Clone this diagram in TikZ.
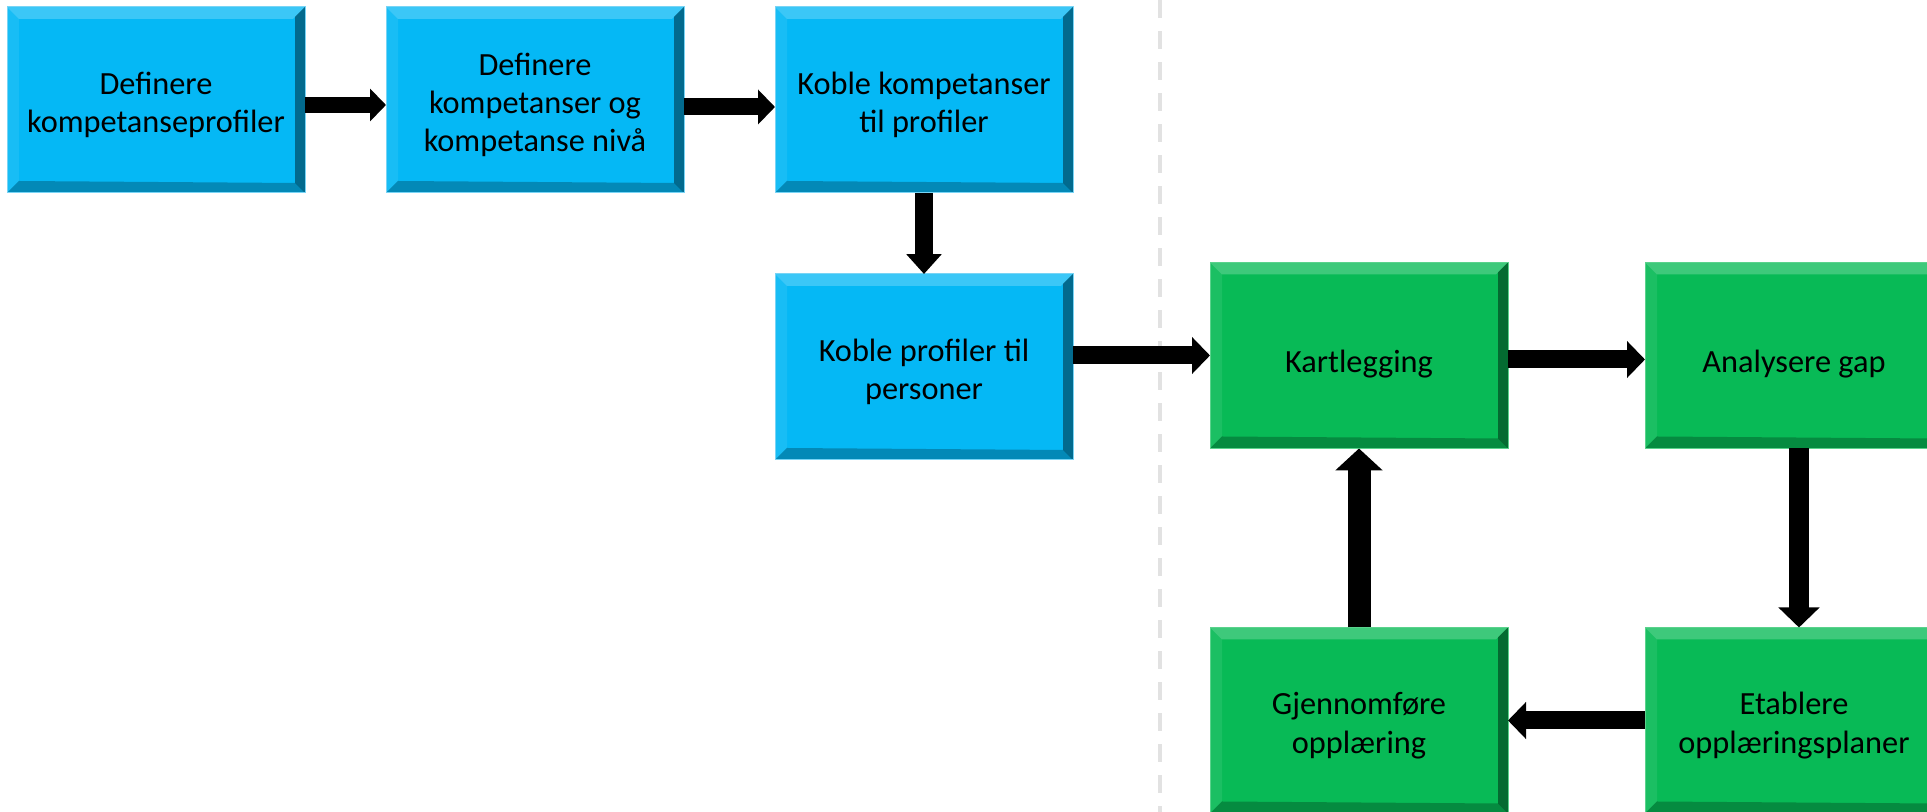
\documentclass[tikz,border=0pt]{standalone}
\usepackage{fontspec}
\setmainfont{Carlito}
\usepackage{tikz}
\usetikzlibrary{positioning, arrows.meta}
\definecolor{blaa}{RGB}{5,184,245}
\definecolor{blaakant}{RGB}{120,212,245}
\definecolor{groenn}{RGB}{8,186,86}
\definecolor{groennkant}{RGB}{90,210,140}
\definecolor{skille}{RGB}{226,226,226}
\newcommand{\stiv}{\rule{0pt}{1.1em}}
\tikzset{
	fas/.style={path picture={
		\path (path picture bounding box.south west) coordinate (bsw)
			(path picture bounding box.north west) coordinate (bnw)
			(path picture bounding box.north east) coordinate (bne)
			(path picture bounding box.south east) coordinate (bse);
		\fill[white, opacity=.22] (bnw) -- (bne) -- ([shift={(-.12,-.12)}]bne) -- ([shift={(.12,-.12)}]bnw) -- cycle;
		\fill[white, opacity=.08] (bnw) -- (bsw) -- ([shift={(.12,.12)}]bsw) -- ([shift={(.12,-.12)}]bnw) -- cycle;
		\fill[black, opacity=.42] (bne) -- (bse) -- ([shift={(-.10,.10)}]bse) -- ([shift={(-.10,-.10)}]bne) -- cycle;
		\fill[black, opacity=.25] (bsw) -- (bse) -- ([shift={(-.10,.10)}]bse) -- ([shift={(.12,.12)}]bsw) -- cycle;
	}}
}
\tikzstyle{block} = [rectangle, draw, line width=0.01cm, minimum width=2.98cm, minimum height=1.86cm, align=center, inner sep=0pt, outer sep=0pt, font=\fontsize{9.2}{10.9}\selectfont, fas,
	execute at begin node={\rule{0pt}{1.3em}}, execute at end node={\rule[-0.27em]{0pt}{0pt}}]
\tikzstyle{blaablokk} = [block, fill=blaa, draw=blaakant]
\tikzstyle{groennblokk} = [block, fill=groenn, draw=groennkant]
\tikzstyle{pil} = [line width=0.18cm, -{Triangle[length=0pt 1, width=0pt 2]}]

\begin{document}
\begin{tikzpicture}
		\useasboundingbox (0,0) rectangle (19.27,-8.12);
		\clip (0,0) rectangle (19.27,-8.12);
		
		% Skillelinje
		\draw[skille, line width=0.045cm, dash pattern=on 0.18cm off 0.13cm] (11.60,0) -- (11.60,-8.12);
		
		% Blaa bokser
		\node [blaablokk] (definere) at (1.56,-1.00) {\stiv Definere\\kompetanseprofiler};
		\node [blaablokk, right=0.81cm of definere] (kompetanse) {\stiv Definere\\kompetanser og\\kompetanse nivå};
		\node [blaablokk, right=0.91cm of kompetanse] (koble) {\stiv Koble kompetanser\\til profiler};
		\node [blaablokk, below=0.81cm of koble] (personer) {\stiv Koble profiler til\\personer};
		
		% Groenne bokser
		\node [groennblokk, right=1.37cm of personer, yshift=0.115cm] (kartlegging) {Kartlegging};
		\node [groennblokk, right=1.37cm of kartlegging] (analyse) {Analysere gap};
		\node [groennblokk, below=1.79cm of analyse] (planer) {\stiv Etablere\\opplæringsplaner};
		\node [groennblokk, left=1.37cm of planer] (opplaering) {\stiv Gjennomføre\\opplæring};
		
		\draw[pil, line width=0.16cm] ([yshift=-0.05cm]definere.east) -- ([yshift=-0.05cm]kompetanse.west);
		\draw[pil, line width=0.17cm] ([yshift=-0.07cm]kompetanse.east) -- ([yshift=-0.07cm]koble.west);
		\draw[pil, -{Triangle[length=0pt 1.1, width=0pt 1.9]}] (koble) -- (personer);
		\draw[pil] (personer.east |- kartlegging.west) -- (kartlegging.west);
		\draw[pil] ([yshift=-0.04cm]kartlegging.east) -- ([yshift=-0.04cm]analyse.west);
		\draw[pil, line width=0.20cm] ([xshift=0.05cm]analyse.south) -- ([xshift=0.05cm]planer.north);
		\draw[pil] (planer) -- (opplaering);
		\draw[pil, line width=0.23cm, -{Triangle[length=0pt 0.95, width=0pt 2]}] (opplaering) -- (kartlegging);
	\end{tikzpicture}
\end{document}
